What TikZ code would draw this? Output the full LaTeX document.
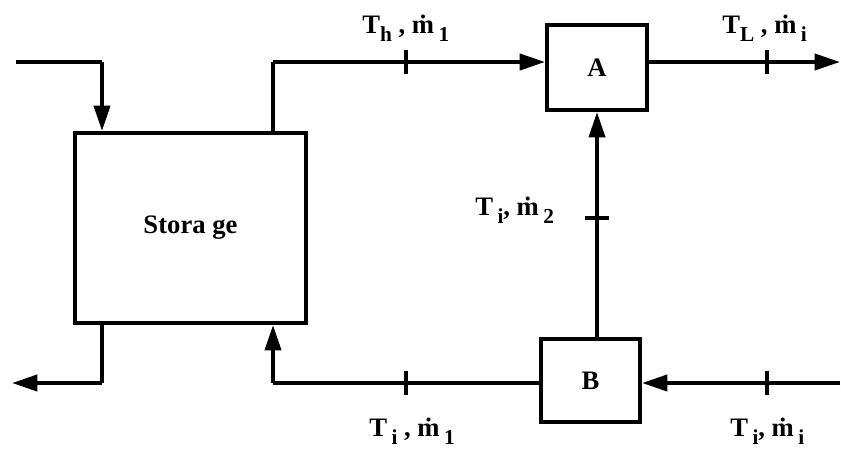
\documentclass[tikz,border=0pt]{standalone}
\usepackage{fontspec}
\setmainfont{Liberation Serif}
\usetikzlibrary{arrows.meta}

% lowered subscript in the labels
\newcommand{\dn}[1]{\raisebox{-6.5pt}{\fontsize{16}{18}\selectfont #1}}

\tikzset{
    flow/.style={line width=3pt, -{Triangle[length=19pt,width=12pt]}},
    pipe/.style={line width=3pt},
    tick/.style={line width=2.6pt},
    unit/.style={draw, line width=3pt, inner sep=0pt, font=\fontsize{20}{24}\selectfont\bfseries},
    lbl/.style={anchor=base west, inner sep=0pt, font=\fontsize{20}{24}\selectfont\bfseries}
}

\begin{document}
\begin{tikzpicture}[x=0.75pt, y=-0.75pt]
        \useasboundingbox (0,0) rectangle (841,450);

        % ====================
        % 1. Units
        % ====================
        \node[unit, minimum width=173.25pt, minimum height=142.5pt] (storage) at (190.5,228) {Stora ge};
        \node[unit, minimum width=75pt, minimum height=63.75pt] (A) at (597,67.5) {A};
        \node[unit, minimum width=74.25pt, minimum height=62.25pt] (B) at (590.5,380.5) {B};

        % ====================
        % 2. Free ends and bends
        % ====================
        \coordinate (src)     at (16,62);
        \coordinate (inbend)  at (102,62);
        \coordinate (hotbend) at (273,62);
        \coordinate (aout)    at (840,62);
        \coordinate (retbend) at (273,383);
        \coordinate (outbend) at (102,383);
        \coordinate (sink)    at (12,383);
        \coordinate (cold)    at (840,383);

        % ====================
        % 3. Connectors
        % ====================
        \draw[pipe] (src) -- (inbend);
        \draw[flow] (inbend) -- (inbend |- storage.north);
        \draw[pipe] (hotbend |- storage.north) -- (hotbend);
        \draw[flow] (hotbend) -- (hotbend -| A.west);
        \draw[flow] (hotbend -| A.east) -- (aout);
        \draw[flow] (A.south |- B.north) -- (A.south);
        \draw[pipe] (retbend -| B.west) -- (retbend);
        \draw[flow] (retbend) -- (retbend |- storage.south);
        \draw[pipe] (outbend |- storage.south) -- (outbend);
        \draw[flow] (outbend) -- (sink);
        \draw[flow] (cold) -- (cold -| B.east);

        % Measuring points
        \foreach \x/\y in {406/62, 767/62, 406/383, 767/383} {
            \draw[tick] (\x,\y-12) -- (\x,\y+12);
        }
        \draw[tick] (585,218) -- (609,218);

        % ====================
        % 4. Labels
        % ====================
        \node[lbl] (hot)  at (362,33)  {T\dn{h} , \.m\,\dn{1}};
        \node[lbl] (low)  at (722,33)  {T\dn{L} , \.m\,\dn{i}};
        \node[lbl] (mid)  at (475,215) {T\,\dn{i}, \.m\,\dn{2}};
        \node[lbl] (ret)  at (369,436) {T\,\dn{i} , \.m\,\dn{1}};
        \node[lbl] (feed) at (730,436) {T\,\dn{i}, \.m\,\dn{i}};

    \end{tikzpicture}
\end{document}
